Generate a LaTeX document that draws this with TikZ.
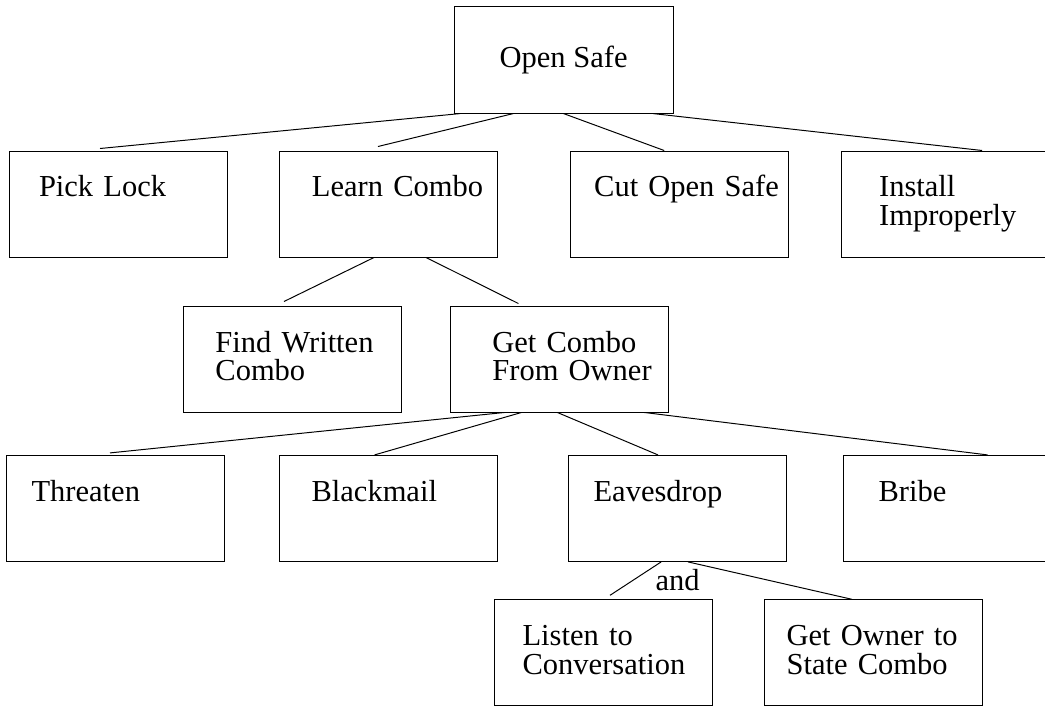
\documentclass[tikz,border=0pt]{standalone}
\usepackage{fontspec}
\setmainfont{Liberation Serif}
\usetikzlibrary{positioning}

\begin{document}
\begin{tikzpicture}[
    node distance=1.3cm,
    root/.style={rectangle, draw, line width=0.7pt, minimum width=5.475cm, minimum height=2.675cm,
        font=\fontsize{21.7pt}{20.5pt}\selectfont},
    box/.style={rectangle, draw, line width=0.7pt, minimum width=5.45cm, minimum height=2.65cm,
        inner xsep=0pt, inner ysep=0pt, text width=5.45cm, align=left,
        text height=1.15cm, text depth=1.5cm,
        font=\fontsize{21.7pt}{20.5pt}\selectfont,
        execute at begin node={\leftskip=#1}},
    box/.default=0.75cm,
    link/.style={line width=0.7pt}
]
\useasboundingbox (0,0) rectangle (26.125,-17.675);

\node[root] (open) at (14.09,-1.49) {Open Safe};

\node[box] (pick) at (2.95,-5.1) {Pick Lock};
\node[box=0.8cm, right=1.3cm of pick] (learn) {Learn Combo};
\node[box=0.6cm, right=1.78cm of learn] (cut) {Cut Open Safe};
\node[box=0.95cm, right=1.3cm of cut] (install) {Install\\Improperly};

\node[box=0.8cm] (find) at (7.31,-8.975) {Find Written\\Combo};
\node[box=1.05cm, right=1.2cm of find] (getcombo) {Get Combo\\From Owner};

\node[box=0.625cm] (threaten) at (2.89,-12.71) {Threaten};
\node[box=0.8cm, right=1.35cm of threaten] (blackmail) {Blackmail};
\node[box=0.625cm, right=1.75cm of blackmail] (eaves) {Eavesdrop};
\node[box=0.875cm, right=1.4cm of eaves] (bribe) {Bribe};

\node[box=0.7cm] (listen) at (15.09,-16.32) {Listen to\\Conversation};
\node[box=0.55cm, right=1.275cm of listen] (owner) {Get Owner to\\State Combo};

\node[font=\fontsize{21.7pt}{20.5pt}\selectfont, inner sep=0pt] (andlbl) at ([yshift=-0.45cm]eaves.south) {and};

\draw[link] ([xshift=-2.59cm]open.south) -- ([xshift=-0.45cm,yshift=0.05cm]pick.north);
\draw[link] ([xshift=-1.26cm]open.south) -- ([xshift=-0.275cm,yshift=0.1cm]learn.north);
\draw[link] (open.south) -- ([xshift=-0.375cm]cut.north);
\draw[link] ([xshift=2.24cm]open.south) -- ([xshift=0.8cm]install.north);

\draw[link] ([xshift=-0.375cm]learn.south) -- ([xshift=-0.21cm,yshift=0.1cm]find.north);
\draw[link] ([xshift=0.925cm]learn.south) -- ([xshift=-1.025cm,yshift=0.05cm]getcombo.north);

\draw[link] ([xshift=-1.375cm]getcombo.south) -- ([xshift=-0.14cm,yshift=0.05cm]threaten.north);
\draw[link] ([xshift=-0.95cm]getcombo.south) -- ([xshift=-0.35cm]blackmail.north);
\draw[link] ([xshift=-0.05cm]getcombo.south) -- ([xshift=-0.49cm]eaves.north);
\draw[link] ([xshift=2.125cm]getcombo.south) -- ([xshift=0.875cm]bribe.north);

\draw[link] ([xshift=-0.41cm]eaves.south) -- ([xshift=0.16cm,yshift=0.1cm]listen.north);
\draw[link] ([xshift=0.26cm]eaves.south) -- ([xshift=-0.54cm]owner.north);
\end{tikzpicture}
\end{document}
